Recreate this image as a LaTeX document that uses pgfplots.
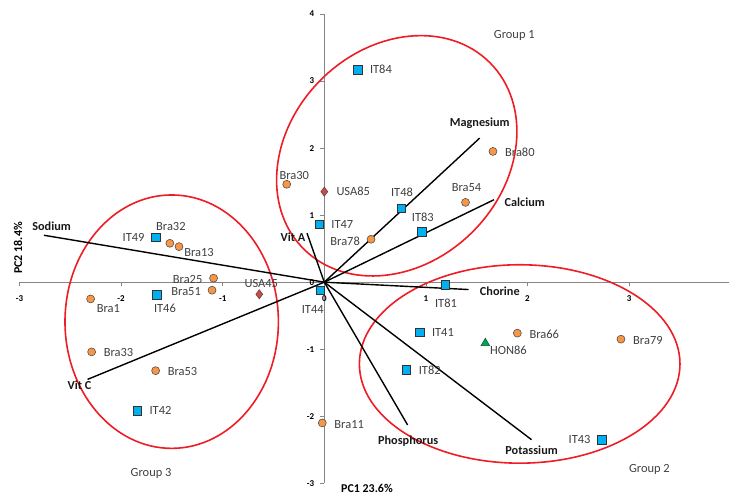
\documentclass[border=0pt]{standalone}
\usepackage{fontspec}
\setmainfont{Carlito}
\usepackage{pgfplots}
\pgfplotsset{compat=1.18}
\definecolor{bra}{HTML}{F79646}
\definecolor{itc}{HTML}{00B0F0}
\definecolor{usa}{HTML}{C0504D}
\definecolor{hon}{HTML}{00A650}
\definecolor{axgray}{HTML}{868686}
\definecolor{txt}{HTML}{404040}
\definecolor{ell}{HTML}{EE1C25}

\pgfplotsset{
  bra/.style={only marks, mark=*, mark size=4bp, mark options={fill=bra, draw=black!75, line width=0.5bp}},
  it/.style={only marks, mark=square*, mark size=4.2bp, mark options={fill=itc, draw=black!80, line width=0.6bp}},
  usa/.style={only marks, mark=diamond*, mark size=4.6bp, mark options={fill=usa, draw=usa!60!black, line width=0.5bp}},
  hon/.style={only marks, mark=triangle*, mark size=5bp, mark options={fill=hon, draw=hon!50!black, line width=0.5bp}},
  vec/.style={black, line width=1.4bp, no marks},
}
\tikzset{
  vlab/.style={font=\bfseries\fontsize{12.3}{14}\selectfont, text=black!90, inner sep=0pt},
  plab/.style={font=\fontsize{12.5}{14}\selectfont, text=txt, inner sep=0pt},
}
% \pt{style}{x}{y}{label}{anchor}{dx}{dy}
\newcommand{\pt}[7]{\addplot[#1] coordinates {(#2,#3)} node[pos=0, plab, anchor=#5, xshift=#6bp, yshift=#7bp] {#4};}

\begin{document}
\begin{tikzpicture}
\path[use as bounding box] (-19.5bp,-11.7bp) rectangle (709.5bp,483.3bp);
\begin{axis}[
  at={(0,0)}, anchor=south west,
  scale only axis, width=711.2bp, height=469.3bp,
  xmin=-3, xmax=4, ymin=-3, ymax=4,
  axis lines=center,
  axis line style={axgray, line width=0.75bp, -},
  xtick={-3,-2,-1,0,1,2,3}, ytick={-3,-2,-1,0,1,2,3,4},
  hide obscured x ticks=false, hide obscured y ticks=false,
  tick align=outside, major tick length=4bp,
  tick style={axgray, line width=0.75bp},
  /pgf/number format/assume math mode=true,
  ticklabel style={font=\bfseries\fontsize{9}{10}\selectfont, text=black},
  xticklabel style={anchor=north, inner sep=0pt, yshift=-9bp},
  yticklabel style={anchor=east, inner sep=0pt, xshift=-6bp},
  clip=false,
]
% group ellipses
\draw[ell, line width=1.6bp, rotate around={45:(axis cs:0.713,1.885)}] (axis cs:0.713,1.885) ellipse [x radius=131.7bp, y radius=107.4bp];
\draw[ell, line width=1.6bp] (axis cs:-1.502,-0.589) ellipse [x radius=106.7bp, y radius=126.7bp];
\draw[ell, line width=1.6bp] (axis cs:1.923,-1.22) ellipse [x radius=160.3bp, y radius=99.2bp];

% loading vectors
\addplot[vec] coordinates {(0,0) (-2.76,0.70)} node[pos=1, vlab, anchor=center, xshift=7.7bp, yshift=9bp] {Sodium};
\addplot[vec] coordinates {(0,0) (-0.17,0.73)} node[pos=1, vlab, anchor=center, xshift=-14bp, yshift=-4bp] {Vit A};
\addplot[vec] coordinates {(0,0) (1.53,2.15)} node[pos=1, vlab, anchor=center, yshift=15bp] {Magnesium};
\addplot[vec] coordinates {(0,0) (1.67,1.23)} node[pos=1, vlab, anchor=west, xshift=10bp, yshift=-2.7bp] {Calcium};
\addplot[vec] coordinates {(0,0) (1.42,-0.11)} node[pos=1, vlab, anchor=west, xshift=10.7bp, yshift=-1.4bp] {Chorine};
\addplot[vec] coordinates {(0,0) (0.82,-2.13)} node[pos=1, vlab, anchor=center, xshift=0.6bp, yshift=-16bp] {Phosphorus};
\addplot[vec] coordinates {(0,0) (2.04,-2.35)} node[pos=1, vlab, anchor=center, yshift=-11bp] {Potassium};
\addplot[vec] coordinates {(0,0) (-2.33,-1.45)} node[pos=1, vlab, anchor=center, xshift=-8bp, yshift=-5.7bp] {Vit C};

% Brazil samples
\pt{bra}{1.66}{1.95}{Bra80}{west}{12}{-1}
\pt{bra}{-0.37}{1.46}{Bra30}{center}{7.6}{9}
\pt{bra}{1.39}{1.19}{Bra54}{center}{1}{15}
\pt{bra}{0.46}{0.64}{Bra78}{east}{-11}{-1.7}
\pt{bra}{-1.52}{0.58}{Bra32}{center}{1}{16.6}
\pt{bra}{-1.43}{0.53}{Bra13}{center}{20}{-6}
\pt{bra}{-1.09}{0.06}{Bra25}{east}{-11}{-1}
\pt{bra}{-1.105}{-0.12}{Bra51}{east}{-11}{-1.4}
\pt{bra}{-2.30}{-0.25}{Bra1}{center}{17.7}{-9.6}
\pt{bra}{1.90}{-0.76}{Bra66}{west}{12}{-1.5}
\pt{bra}{2.92}{-0.85}{Bra79}{west}{12}{-1.5}
\pt{bra}{-0.02}{-2.10}{Bra11}{west}{12}{-1.3}
\pt{bra}{-2.29}{-1.04}{Bra33}{west}{12}{-1}
\pt{bra}{-1.66}{-1.32}{Bra53}{west}{12}{-1}
% Italy samples
\pt{it}{0.33}{3.17}{IT84}{west}{12}{0}
\pt{it}{0.755}{1.10}{IT48}{center}{1}{16}
\pt{it}{0.96}{0.75}{IT83}{center}{1}{14.4}
\pt{it}{-0.05}{0.86}{IT47}{west}{12}{0}
\pt{it}{-1.66}{0.67}{IT49}{east}{-11}{0}
\pt{it}{-1.65}{-0.19}{IT46}{center}{8.3}{-13.3}
\pt{it}{-0.04}{-0.12}{IT44}{center}{-7.5}{-19.3}
\pt{it}{1.19}{-0.04}{IT81}{center}{0.8}{-18}
\pt{it}{0.94}{-0.75}{IT41}{west}{12}{0}
\pt{it}{0.81}{-1.31}{IT82}{west}{12}{0}
\pt{it}{2.73}{-2.35}{IT43}{east}{-11}{0}
\pt{it}{-1.84}{-1.92}{IT42}{west}{12}{0}
% USA and Honduras
\pt{usa}{0.00}{1.35}{USA85}{west}{12}{0}
\pt{usa}{-0.64}{-0.18}{USA45}{center}{2}{10.6}
\pt{hon}{1.585}{-0.91}{HON86}{center}{23}{-7.4}

% group labels and axis titles
\node[plab] at (axis cs:1.87,3.68) {Group 1};
\node[plab] at (axis cs:3.20,-2.79) {Group 2};
\node[plab] at (axis cs:-1.705,-2.86) {Group 3};
\node[font=\bfseries\fontsize{12}{14}\selectfont, rotate=90] at (axis cs:-3.015,0.51) {PC2 18.4\%};
\node[font=\bfseries\fontsize{12}{14}\selectfont] at (axis cs:0.42,-3.07) {PC1 23.6\%};
\end{axis}
\end{tikzpicture}
\end{document}
